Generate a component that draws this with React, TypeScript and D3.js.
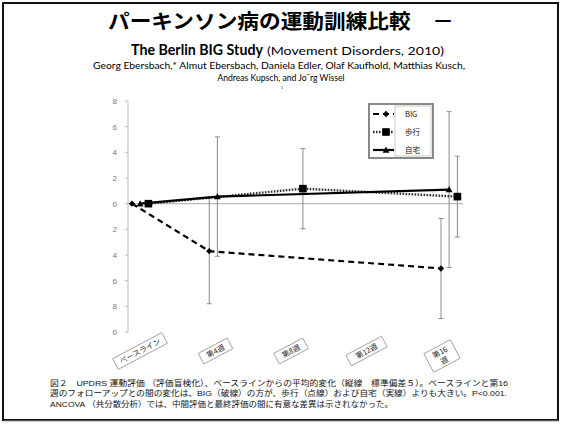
import React from 'react';
import * as d3 from 'd3';

const categories = ['ベースライン', '第4週', '第8週', '第12週', '第16週'];
const yTicks = [8, 6, 4, 2, 0, -2, -4, -6, -8, -10];
const yTickLabels = ['8', '6', '4', '2', '0', '2', '4', '6', '8', '0'];

const seriesNames = ['BIG', '歩行', '自宅'];
const bigWeeks = [0, 4, 16];
const bigMean = [0, -3.7, -5.05];
const bigSd = [0, 4.1, 3.9];
const walkWeeks = [0, 8, 16];
const walkMean = [0, 1.17, 0.55];
const walkSd = [0, 3.12, 3.15];
const homeWeeks = [0, 4, 16];
const homeMean = [0, 0.55, 1.1];
const homeSd = [0, 4.65, 6.07];
// horizontal jitter (weeks) used in the original figure to separate series
const seriesJitter = [0, 0.85, 0.42];

const captionLines = [
  '図２　UPDRS 運動評価 （評価盲検化）、ベースラインからの平均的変化（縦線　標準偏差５）。ベースラインと第16',
  '週のフォローアップとの間の変化は、BIG（破線）の方が、歩行（点線）および自宅（実線）よりも大きい。P<0.001.',
  'ANCOVA （共分散分析）では、中間評価と最終評価の間に有意な差異は示されなかった。',
];

const W = 563, H = 424;
const jpFont = '"Noto Sans CJK JP", "Noto Sans", sans-serif';
const capFont = '"Liberation Sans", "Noto Sans CJK JP", sans-serif';

function marker(kind: string, x: number, y: number, key: string) {
  if (kind === 'diamond') {
    const s = 3.2;
    return <path key={key} d={`M${x},${y - s}L${x + s},${y}L${x},${y + s}L${x - s},${y}Z`} fill="#000" />;
  }
  if (kind === 'square') {
    return <rect key={key} x={x - 3.8} y={y - 3.8} width={7.6} height={7.6} fill="#000" />;
  }
  const s = 3.4;
  return <path key={key} d={`M${x},${y - s}L${x + s},${y + s * 0.8}L${x - s},${y + s * 0.8}Z`} fill="#000" />;
}

export default function App() {
  const x = d3.scaleLinear().domain([0, 16]).range([132, 441]);
  const y = d3.scaleLinear().domain([8, -10]).range([101, 332]);
  const xCat = d3.scalePoint<string>().domain(categories).range([140, 442]);

  const series = [
    { name: seriesNames[0], weeks: bigWeeks, mean: bigMean, sd: bigSd, dash: '6,4', width: 2.2, mk: 'diamond', jit: seriesJitter[0] },
    { name: seriesNames[1], weeks: walkWeeks, mean: walkMean, sd: walkSd, dash: '1.6,1.4', width: 2.4, mk: 'square', jit: seriesJitter[1] },
    { name: seriesNames[2], weeks: homeWeeks, mean: homeMean, sd: homeSd, dash: '', width: 2.2, mk: 'triangle', jit: seriesJitter[2] },
  ];

  const line = d3.line<[number, number]>().x(d => d[0]).y(d => d[1]);
  const axisX = 128;

  return (
    <svg width={W} height={H} style={{ position: 'fixed', left: 0, top: 0, background: '#fff' }}>
      <rect x={3} y={3} width={555} height={417} fill="#fff" stroke="#111" strokeWidth={2} />
      <line x1={4} y1={421} x2={559} y2={421} stroke="#999" strokeWidth={1} />

      {/* Titles */}
      <text x={281} y={29} textAnchor="middle" fontFamily={jpFont} fontWeight={700} fontSize={20} textLength={346} lengthAdjust="spacingAndGlyphs">
        パーキンソン病の運動訓練比較　－
      </text>
      <text x={131} y={55} fontFamily="Lato, sans-serif" fontWeight={700} fontSize={15.5} textLength={132} lengthAdjust="spacingAndGlyphs">The Berlin BIG Study</text>
      <text x={267} y={55} fontFamily="Lato, sans-serif" fontSize={11.5} textLength={177} lengthAdjust="spacingAndGlyphs">(Movement Disorders, 2010)</text>
      <text x={279} y={68.5} textAnchor="middle" fontFamily="Lato, sans-serif" fontSize={8.6} textLength={372} lengthAdjust="spacingAndGlyphs">
        Georg Ebersbach,* Almut Ebersbach, Daniela Edler, Olaf Kaufhold, Matthias Kusch,
      </text>
      <text x={281} y={81} textAnchor="middle" fontFamily="Lato, sans-serif" fontSize={8.6}>
        Andreas Kupsch, and Jo¨rg Wissel
      </text>
      <text x={282} y={89} textAnchor="middle" fontFamily="Lato, sans-serif" fontSize={3.5}>1</text>

      {/* Y axis */}
      <line x1={axisX} y1={y(8)} x2={axisX} y2={y(-10)} stroke="#bbb" strokeWidth={1} />
      {yTicks.map((t, i) => (
        <g key={'yt' + i}>
          <line x1={axisX - 3} x2={axisX} y1={y(t)} y2={y(t)} stroke="#bbb" />
          <text x={117} y={y(t) + 3} textAnchor="end" fontFamily={capFont} fontSize={8} fill="#777">{yTickLabels[i]}</text>
        </g>
      ))}
      <line x1={axisX} x2={463} y1={y(0)} y2={y(0)} stroke="#bbb" strokeWidth={1.2} />

      {/* X category labels */}
      {categories.map((c, i) => {
        const two = c === '第16週';
        const w = two ? 30 : c.length * 7.6 + 10;
        const h = two ? 21 : 12;
        const cy = two ? 356 : 351;
        return (
          <g key={'xc' + i} transform={`translate(${xCat(c)},${cy}) rotate(-28)`}>
            <rect x={-w / 2} y={-h / 2} width={w} height={h} fill="#fff" stroke="#888" strokeWidth={0.7} />
            {two ? (
              <text textAnchor="middle" fontFamily={jpFont} fontSize={7.5} fill="#222">
                <tspan x={0} y={-1.5}>第16</tspan>
                <tspan x={0} y={7.5}>週</tspan>
              </text>
            ) : (
              <text x={0} y={2.8} textAnchor="middle" fontFamily={jpFont} fontSize={7.5} fill="#222">{c}</text>
            )}
          </g>
        );
      })}

      {/* Error bars */}
      {series.map((s, si) => s.weeks.map((wk, i) => {
        if (!s.sd[i]) return null;
        const px = x(wk + s.jit);
        const y1 = y(s.mean[i] + s.sd[i]);
        const y2 = y(s.mean[i] - s.sd[i]);
        return (
          <g key={`eb${si}-${i}`} stroke="#8a8a8a" strokeWidth={1}>
            <line x1={px} x2={px} y1={y1} y2={y2} />
            <line x1={px - 2.5} x2={px + 2.5} y1={y1} y2={y1} />
            <line x1={px - 2.5} x2={px + 2.5} y1={y2} y2={y2} />
          </g>
        );
      }))}

      {/* Lines */}
      {series.map((s, si) => (
        <path key={'ln' + si}
          d={line(s.weeks.map((wk, i) => [x(wk + s.jit), y(s.mean[i])] as [number, number])) || ''}
          fill="none" stroke={si === 1 ? '#333' : '#000'} strokeWidth={s.width}
          strokeDasharray={s.dash || undefined} />
      ))}
      {series.map((s, si) => s.weeks.map((wk, i) => marker(s.mk, x(wk + s.jit), y(s.mean[i]), `mk${si}-${i}`)))}

      {/* Legend */}
      <rect x={369} y={104} width={64} height={54} fill="#fff" stroke="#888" strokeWidth={2} />
      <rect x={395} y={106} width={36} height={50} fill="#fff" stroke="#bbb" strokeWidth={0.8} />
      {series.map((s, si) => {
        const ly = 114 + si * 18;
        return (
          <g key={'lg' + si}>
            <line x1={373} x2={394} y1={ly} y2={ly} stroke={si === 1 ? '#333' : '#000'} strokeWidth={s.width} strokeDasharray={s.dash || undefined} />
            {marker(s.mk, 386, ly, 'lgm' + si)}
            <text x={405} y={ly + 3} fontFamily={jpFont} fontSize={7.5} fill="#111">{s.name}</text>
          </g>
        );
      })}

      {/* Caption */}
      {captionLines.map((t, i) => (
        <text key={'cap' + i} x={50} y={386 + i * 10.3} fontFamily={capFont} fontSize={8} fill="#111"
          textLength={i === 0 ? 458 : i === 1 ? 457 : 343} lengthAdjust="spacingAndGlyphs">{t}</text>
      ))}
    </svg>
  );
}
